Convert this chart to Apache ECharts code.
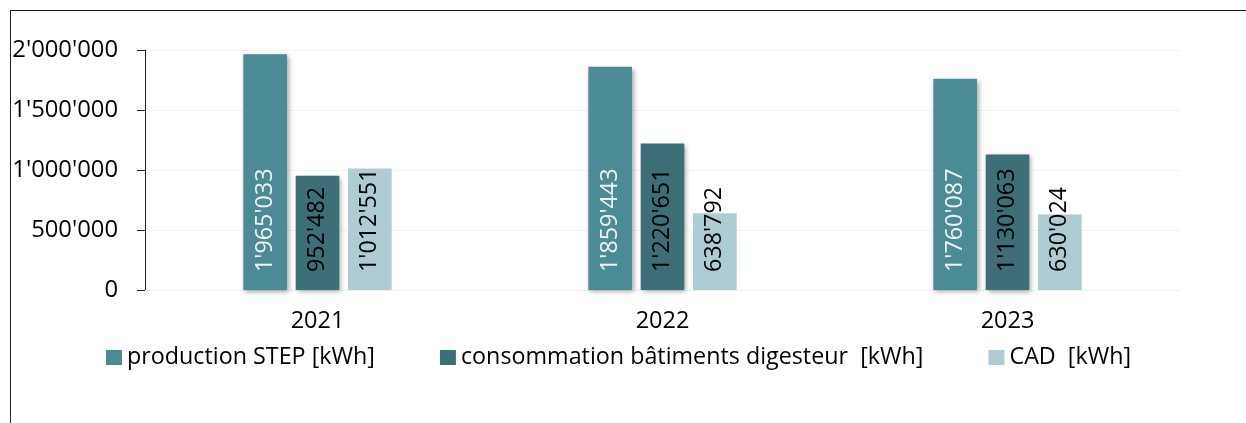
<!DOCTYPE html>
<html><head><meta charset="utf-8">
<script src="https://cdn.jsdelivr.net/npm/echarts@6/dist/echarts.min.js"></script>
<style>html,body{margin:0;padding:0;background:#fff}#c{width:1246px;height:423px}</style>
</head><body><div id="c"></div>
<script>
const categories = ['2021', '2022', '2023'];
const seriesNames = ['production STEP [kWh]', 'consommation bâtiments digesteur  [kWh]', 'CAD  [kWh]'];
const production = [1965033, 1859443, 1760087];
const consommation = [952482, 1220651, 1130063];
const cad = [1012551, 638792, 630024];
const yTicks = [0, 500000, 1000000, 1500000, 2000000];

const FONT = 'Open Sans';
function fmt(v) { return String(Math.round(v)).replace(/\B(?=(\d{3})+(?!\d))/g, "'"); }

const chart = echarts.init(document.getElementById('c'), null, {renderer: 'canvas'});
function bar(name, data, color, labelColor, shadow) {
  return {
    name, type: 'bar', data,
    barGap: '20%', barCategoryGap: '57%',
    itemStyle: Object.assign({color}, shadow ? {shadowBlur: 5, shadowColor: 'rgba(0,0,0,0.35)', shadowOffsetX: 2, shadowOffsetY: 2} : {}),
    label: {
      show: true, position: 'insideBottom', rotate: 90, align: 'left', verticalAlign: 'middle',
      distance: 18, color: labelColor, fontFamily: FONT, fontSize: 23.3,
      formatter: p => fmt(p.value)
    },
    emphasis: {disabled: true}
  };
}
chart.setOption({
  animation: false,
  grid: {left: 145, right: 66, top: 50, bottom: 133, containLabel: false},
  legend: {
    left: 101, top: 341, itemWidth: 16, itemHeight: 15, itemGap: 65,
    icon: 'rect',
    textStyle: {fontFamily: FONT, fontSize: 23.3, color: '#000'},
    data: seriesNames
  },
  xAxis: {
    type: 'category', data: categories,
    axisLine: {show: true, lineStyle: {color: '#f0f0f0', width: 1}},
    axisTick: {show: false},
    axisLabel: {color: '#000', fontFamily: FONT, fontSize: 23.5, margin: 19}
  },
  yAxis: {
    type: 'value', min: yTicks[0], max: yTicks[yTicks.length - 1], interval: yTicks[1] - yTicks[0],
    axisLine: {show: true, lineStyle: {color: '#222', width: 1}},
    axisTick: {show: true, length: 8, lineStyle: {color: '#222'}},
    axisLabel: {color: '#000', fontFamily: FONT, fontSize: 23.8, margin: 27, formatter: v => fmt(v)},
    splitLine: {show: true, lineStyle: {color: '#f3f3f3'}}
  },
  series: [
    bar(seriesNames[0], production, '#4B8B96', '#F2F2F2', true),
    bar(seriesNames[1], consommation, '#3E6F78', '#000', true),
    bar(seriesNames[2], cad, '#ADCCD4', '#000', false)
  ],
  graphic: [
    {type: 'line', shape: {x1: 10, y1: 10.5, x2: 1246, y2: 10.5}, style: {stroke: '#222', lineWidth: 1}},
    {type: 'line', shape: {x1: 10.5, y1: 10, x2: 10.5, y2: 423}, style: {stroke: '#222', lineWidth: 1}}
  ]
});
</script></body></html>
